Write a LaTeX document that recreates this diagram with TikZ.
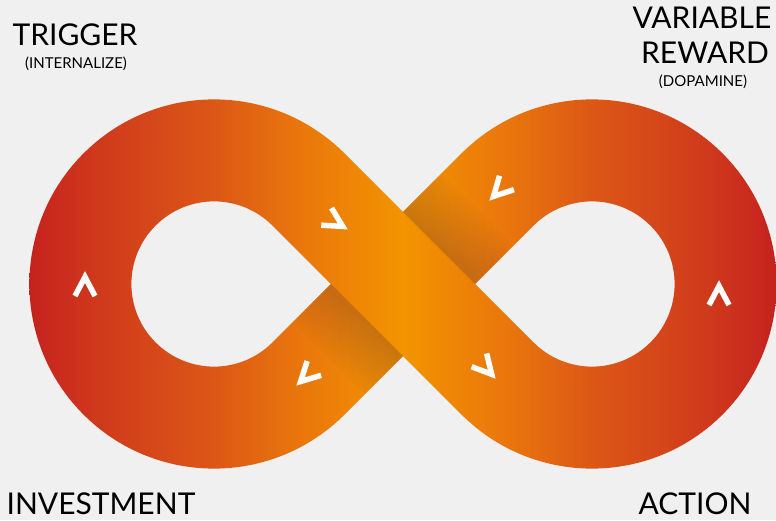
\documentclass[tikz,border=0pt]{standalone}
\usepackage{fontspec}
\setmainfont{Lato}
\usetikzlibrary{calc}

\definecolor{bggray}{RGB}{240,240,240}
\definecolor{bandred}{RGB}{197,34,30}
\definecolor{bandA}{RGB}{208,58,28}
\definecolor{bandB}{RGB}{220,88,22}
\definecolor{bandC}{RGB}{233,118,12}
\definecolor{bandorange}{RGB}{243,148,0}
\definecolor{shadowbrown}{RGB}{150,85,45}

\pgfdeclarehorizontalshading{bandshade}{100bp}{color(0bp)=(bandred); color(25bp)=(bandred);
  color(29.75bp)=(bandA); color(37.5bp)=(bandB); color(43bp)=(bandC); color(50bp)=(bandorange);
  color(57bp)=(bandC); color(62.5bp)=(bandB); color(70.25bp)=(bandA); color(75bp)=(bandred);
  color(100bp)=(bandred)}

\tikzset{
  chev/.style={draw=white, line width=5.5pt, line join=miter},
  bigword/.style={font=\fontsize{30}{36}\selectfont, anchor=base, inner sep=0pt},
  smallword/.style={font=\fontsize{15}{18}\selectfont, anchor=base, inner sep=0pt}
}
\newcommand{\chevron}[3]{\draw[chev, shift={(#1,#2)}, rotate=#3] (-19,10) -- (0,0) -- (-19,-10);}
\def\ro{184.6}
\def\ri{82.6}

\begin{document}
\begin{tikzpicture}[x=1pt,y=1pt]
  \fill[bggray] (0,0) rectangle (776,520);
  \useasboundingbox (0,0) rectangle (776,520);

  \coordinate (L) at (214,236);
  \coordinate (R) at (592,236);
  \coordinate (M) at (403,236);

  % the whole loop
  \begin{scope}
    \clip ($(L)+(45:\ro)$) arc[start angle=45,end angle=315,radius=\ro]
            -- ($(L)+(315:\ri)$) arc[start angle=315,end angle=45,radius=\ri] -- cycle
          ($(R)+(-135:\ro)$) arc[start angle=-135,end angle=135,radius=\ro]
            -- ($(R)+(135:\ri)$) arc[start angle=135,end angle=-135,radius=\ri] -- cycle
          ($(L)+(45:\ri)$) -- ($(R)+(225:\ro)$) -- ($(R)+(225:\ri)$) -- ($(L)+(45:\ro)$) -- cycle
          ($(L)+(315:\ro)$) -- ($(R)+(135:\ri)$) -- ($(R)+(135:\ro)$) -- ($(L)+(315:\ri)$) -- cycle;
    \shade[shading=bandshade] ($(L)+(-\ro,-200)$) rectangle ($(R)+(\ro,200)$);
  \end{scope}

  % shadow under the crossing
  \begin{scope}
    \clip ($(L)+(315:\ro)$) -- ($(R)+(135:\ri)$) -- ($(R)+(135:\ro)$) -- ($(L)+(315:\ri)$) -- cycle;
    \begin{scope}[shift={(M)},rotate=45]
      \foreach \i in {1,...,12}{
        \fill[shadowbrown,opacity=0.04] (51,-60) rectangle ({51+4.5*\i},60);
        \fill[shadowbrown,opacity=0.04] (-51,-60) rectangle ({-51-4.5*\i},60);
      }
    \end{scope}
  \end{scope}

  % arrows along the loop
  \chevron{342.7}{293.6}{-31}
  \chevron{493.5}{323.6}{-134}
  \chevron{300.6}{138.5}{-135.5}
  \chevron{491.7}{145.7}{-48.5}
  \chevron{85}{243}{90}
  \chevron{719}{234}{90}

  % labels
  \node[bigword] (trigger) at (75,474) {TRIGGER};
  \node[smallword] (internalize) at (76,451) {(INTERNALIZE)};
  \node[bigword] (variable) at (702,491) {VARIABLE};
  \node[bigword] (reward) at (705,456) {REWARD};
  \node[smallword] (dopamine) at (703,433) {(DOPAMINE)};
  \node[bigword] (investment) at (101,6) {INVESTMENT};
  \node[bigword] (action) at (695,6) {ACTION};
\end{tikzpicture}
\end{document}
